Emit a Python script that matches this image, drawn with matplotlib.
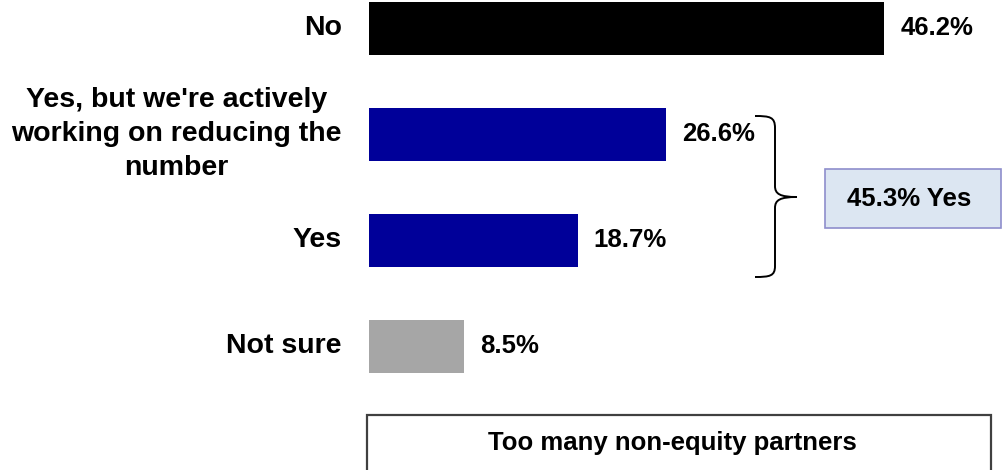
import matplotlib
matplotlib.use("Agg")
import matplotlib.pyplot as plt
from matplotlib.patches import Rectangle, PathPatch
from matplotlib.path import Path

plt.rcParams['font.family'] = ['Liberation Sans', 'DejaVu Sans']
plt.rcParams['font.weight'] = 'bold'

categories = ["No", "Yes, but we're actively\nworking on reducing the\nnumber", "Yes", "Not sure"]
values = [46.2, 26.6, 18.7, 8.5]
colors = ["#000000", "#000099", "#000099", "#A6A6A6"]
yes_total_label = "45.3% Yes"
title = "Too many non-equity partners"

W, H = 1004, 470
fig = plt.figure(figsize=(W / 100, H / 100), dpi=100)

# main bar axes: 0% sits at x=369px, 11.15 px per percentage point
px_per_pct = 11.15
x0 = 369
ax = fig.add_axes([0, 0, 1, 1])
ax.set_xlim(-x0 / px_per_pct, (W - x0) / px_per_pct)
row_px = 106
y_first = 28
ax.set_ylim((H - y_first) / row_px, -y_first / row_px)
ax.axis('off')

ypos = list(range(len(categories)))
ax.barh(ypos, values, height=0.5, color=colors)
for y, v, c in zip(ypos, values, categories):
    ax.text(v + 1.45, y, f"{v}%", ha='left', va='center', fontsize=18.5, fontweight='bold')
    ax.text(-2.45, y, c, ha='right', va='center', fontsize=20.5, fontweight='bold',
            multialignment='center', linespacing=1.38)

# overlay in pixel coordinates for the bracket and boxes
ov = fig.add_axes([0, 0, 1, 1], facecolor='none')
ov.set_xlim(0, W)
ov.set_ylim(H, 0)
ov.axis('off')

# curly bracket grouping the two "Yes" rows
verts = [
    (755, 116),
    (770, 116), (775, 117), (775, 128),
    (775, 186),
    (775, 194), (780, 197), (797, 197),
    (780, 197), (775, 200), (775, 208),
    (775, 266),
    (775, 276), (770, 277), (755, 277),
]
codes = [Path.MOVETO,
         Path.CURVE4, Path.CURVE4, Path.CURVE4,
         Path.LINETO,
         Path.CURVE4, Path.CURVE4, Path.CURVE4,
         Path.CURVE4, Path.CURVE4, Path.CURVE4,
         Path.LINETO,
         Path.CURVE4, Path.CURVE4, Path.CURVE4]
ov.add_patch(PathPatch(Path(verts, codes), fill=False, lw=1.4, edgecolor='black'))

# callout box
ov.add_patch(Rectangle((825, 169), 176, 59, facecolor='#DCE6F2', edgecolor='#8E8ECC', lw=1.2))
ov.text(909, 199, yes_total_label, ha='center', va='center', fontsize=18.5, fontweight='bold')

# title box at the bottom
ov.add_patch(Rectangle((367, 415), 624, 80, facecolor='white', edgecolor='#404040', lw=1.6,
                       clip_on=False))
ov.text(672, 443, title, ha='center', va='center', fontsize=18.5, fontweight='bold')

fig.savefig("out.png", dpi=100)
